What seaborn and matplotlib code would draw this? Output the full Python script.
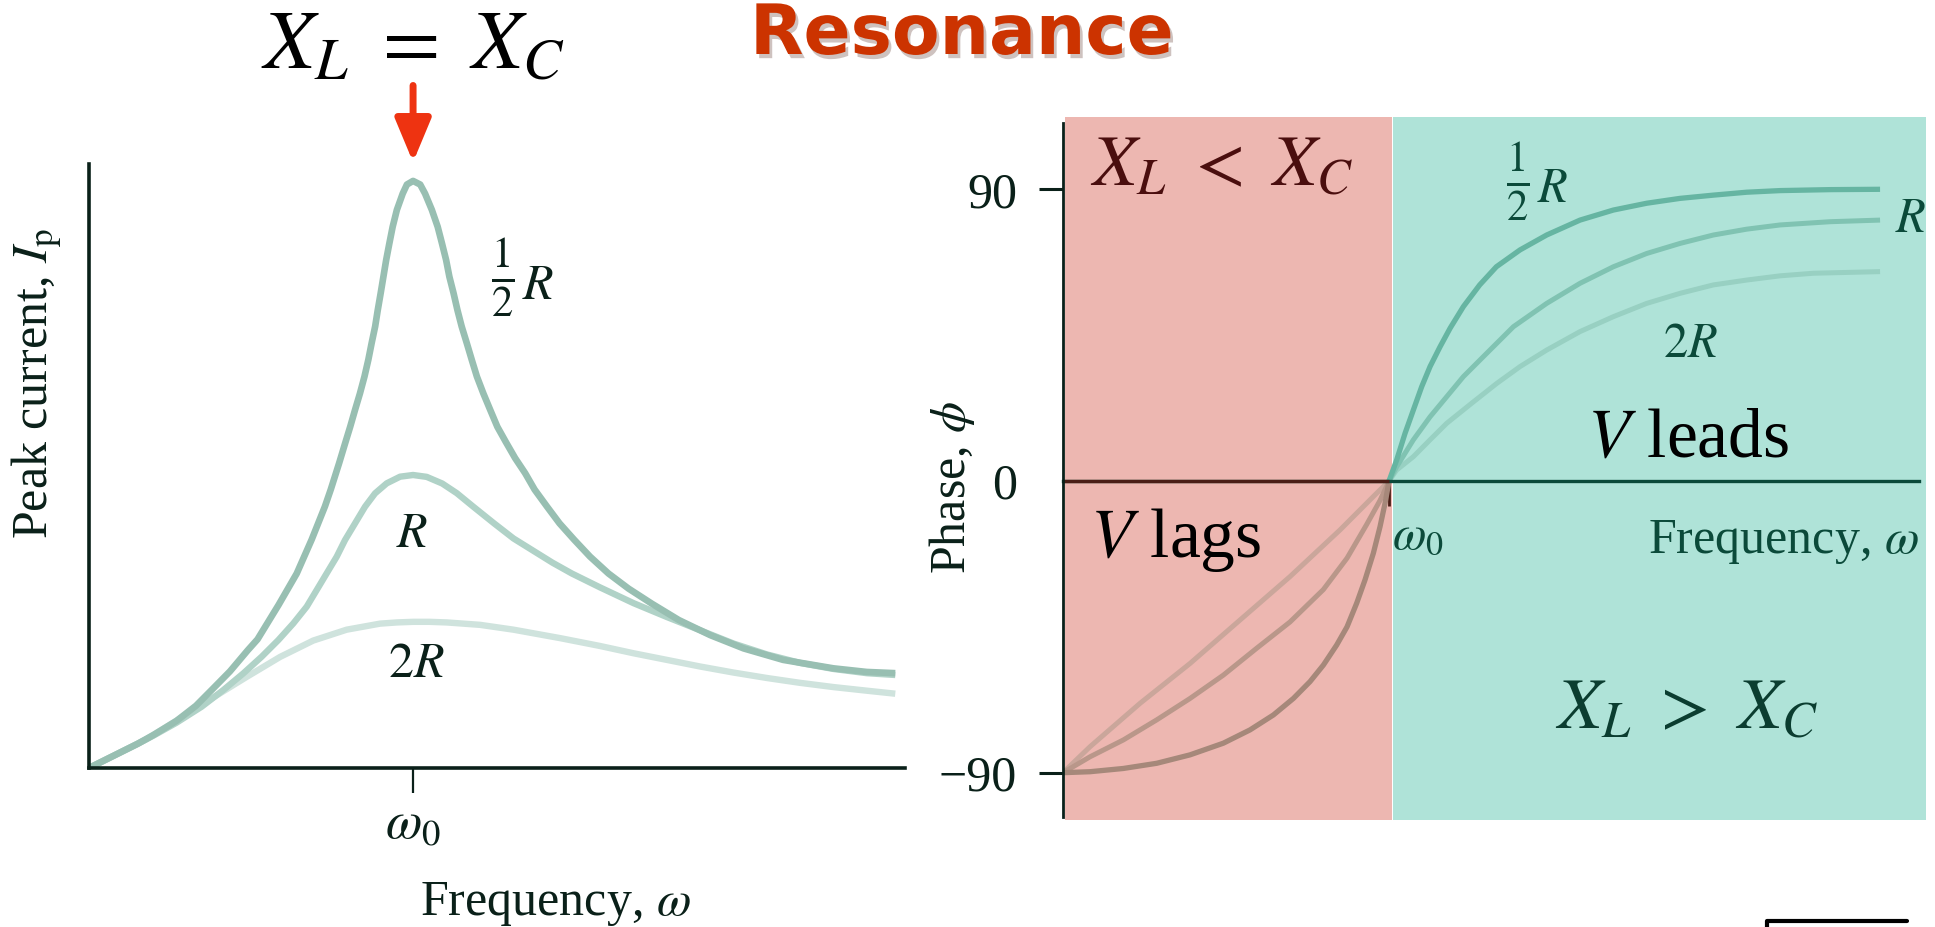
import matplotlib
matplotlib.use('Agg')
import matplotlib.pyplot as plt
import matplotlib.patheffects as pe
from matplotlib.lines import Line2D
import seaborn as sns

# left panel: peak current vs omega/omega0
w_half = [0, 0.075, 0.15, 0.20, 0.27, 0.33, 0.38, 0.435, 0.49, 0.52, 0.585, 0.641, 0.687, 0.728,
          0.746, 0.772, 0.790, 0.806, 0.821, 0.836, 0.850, 0.862, 0.872, 0.883, 0.891, 0.900, 0.9085,
          0.917, 0.927, 0.937, 0.950, 0.968, 0.981, 1.0, 1.022, 1.037, 1.058, 1.076, 1.089, 1.102,
          1.112, 1.125, 1.137, 1.150, 1.166, 1.181, 1.197, 1.217, 1.238, 1.260, 1.286, 1.315, 1.346,
          1.375, 1.413, 1.452, 1.497, 1.546, 1.603, 1.665, 1.737, 1.82, 1.917, 2.02, 2.142, 2.297,
          2.40, 2.488]
i_half = [0, 0.020, 0.040, 0.055, 0.078, 0.103, 0.130, 0.160, 0.195, 0.213, 0.270, 0.322, 0.378,
          0.433, 0.461, 0.505, 0.537, 0.565, 0.593, 0.620, 0.648, 0.676, 0.703, 0.731, 0.758, 0.786,
          0.8135, 0.841, 0.869, 0.896, 0.924, 0.951, 0.966, 0.972, 0.966, 0.951, 0.924, 0.896, 0.869,
          0.841, 0.8135, 0.786, 0.758, 0.731, 0.703, 0.676, 0.648, 0.620, 0.593, 0.565, 0.540, 0.513,
          0.488, 0.461, 0.433, 0.405, 0.378, 0.350, 0.322, 0.297, 0.272, 0.245, 0.220, 0.198, 0.179,
          0.165, 0.159, 0.157]
w_r = [0, 0.075, 0.15, 0.20, 0.27, 0.3477, 0.4146, 0.4763, 0.5329, 0.5844, 0.6307, 0.6718, 0.7027,
       0.7335, 0.7644, 0.7901, 0.821, 0.8519, 0.8827, 0.9187, 0.9599, 1.0, 1.042, 1.09, 1.135, 1.185,
       1.25, 1.31, 1.37, 1.43, 1.49, 1.577, 1.68, 1.783, 1.886, 1.989, 2.092, 2.194, 2.297, 2.40, 2.488]
i_r = [0, 0.020, 0.040, 0.054, 0.075, 0.1015, 0.1291, 0.1567, 0.1843, 0.2119, 0.2395, 0.2671, 0.2947,
       0.3223, 0.3499, 0.3775, 0.4051, 0.4327, 0.4547, 0.4713, 0.4823, 0.4851, 0.482, 0.471, 0.455,
       0.433, 0.405, 0.380, 0.360, 0.340, 0.322, 0.299, 0.273, 0.250, 0.228, 0.206, 0.188, 0.174,
       0.164, 0.157, 0.154]
w_2r = [0, 0.075, 0.178, 0.281, 0.384, 0.487, 0.590, 0.692, 0.795, 0.898, 0.95, 1.0, 1.05, 1.104,
        1.207, 1.310, 1.454, 1.577, 1.680, 1.783, 1.886, 1.989, 2.092, 2.194, 2.297, 2.400, 2.488]
i_2r = [0, 0.020, 0.048, 0.082, 0.117, 0.151, 0.184, 0.211, 0.229, 0.239, 0.241, 0.242, 0.242, 0.241,
        0.237, 0.229, 0.215, 0.202, 0.190, 0.179, 0.168, 0.158, 0.149, 0.141, 0.134, 0.128, 0.123]

# right panel: phase (deg), lagging part (w < w0) and leading part (w > w0)
lag_w_half = [0, 0.0828, 0.1851, 0.2875, 0.3896, 0.4918, 0.5736, 0.6452, 0.7066, 0.7577, 0.7986,
              0.8395, 0.8712, 0.9008, 0.9264, 0.9519, 0.9724, 0.9877, 1.0]
lag_p_half = [-90, -89.7, -88.7, -87.1, -84.5, -80.9, -76.8, -72.2, -67.1, -61.9, -56.8,
              -50.6, -45.0, -37.7, -30.5, -22.3, -14.1, -6.9, 0]
lead_w_half = [1.0, 1.0235, 1.0491, 1.0746, 1.1002, 1.1258, 1.1564, 1.1871, 1.228, 1.2781, 1.3292,
               1.4018, 1.4836, 1.5859, 1.6881, 1.7904, 1.8926, 1.9949, 2.0971, 2.1994, 2.3528, 2.5061]
lead_p_half = [0, 6.5, 14.7, 21.9, 29.1, 35.3, 41.4, 47.1, 53.8, 60.5, 66.1,
               71.3, 75.9, 80.5, 83.6, 85.7, 87.2, 88.2, 89.1, 89.6, 89.9, 90.0]
lag_w_r = [0, 0.0828, 0.1851, 0.2875, 0.3896, 0.4918, 0.5941, 0.6963, 0.7986, 0.8712, 0.9315, 0.9724, 1.0]
lag_p_r = [-90, -85.1, -79.9, -73.7, -67.1, -59.9, -51.6, -43.5, -33.5, -23.8, -13.4, -6.0, 0]
lead_w_r = [1.0, 1.0235, 1.0746, 1.1258, 1.1769, 1.228, 1.2996, 1.3814, 1.4836, 1.5859, 1.6881,
            1.7904, 1.8926, 1.9949, 2.0971, 2.1994, 2.3528, 2.5061]
lead_p_r = [0, 4.4, 12.7, 19.8, 26.0, 32.2, 39.4, 47.6, 54.8, 61.0, 66.1,
            70.2, 73.3, 75.9, 77.7, 79.0, 80.0, 80.5]
lag_w_2r = [0, 0.0828, 0.2363, 0.3896, 0.5429, 0.6963, 0.8497, 0.9519, 1.0]
lag_p_2r = [-90, -82.0, -68.6, -56.3, -42.9, -29.5, -15.1, -4.8, 0]
lead_w_2r = [1.0, 1.0235, 1.0746, 1.1258, 1.1769, 1.2536, 1.3303, 1.4018, 1.4836, 1.5859, 1.6881,
             1.7904, 1.8926, 1.9949, 2.0971, 2.1994, 2.3016, 2.5061]
lead_p_2r = [0, 3.4, 7.5, 12.7, 17.8, 24.0, 30.1, 35.3, 40.4, 46.1, 50.7,
             54.8, 57.9, 60.5, 62.0, 63.3, 64.1, 64.6]

phase_ticks = [-90, 0, 90]
phase_labels = ['\u221290', '0', '90']

sns.set_style('white')
plt.rcParams['font.family'] = ['Liberation Serif', 'DejaVu Serif']
plt.rcParams['mathtext.fontset'] = 'stix'

W, H = 1935, 927
fig = plt.figure(figsize=(W / 100, H / 100), dpi=100)


def box(x0, y0, x1, y1):
    # pixel box measured from the top left -> figure fraction rect
    return [x0 / W, 1 - y1 / H, (x1 - x0) / W, (y1 - y0) / H]


dark = '#0a2019'
dgreen = '#0b4a3a'
brown = '#4a1e16'

# ---------------- left: peak current ----------------
ax1 = fig.add_axes(box(89, 164, 905, 768))
kw = dict(solid_capstyle='butt', solid_joinstyle='round')
sns.lineplot(x=w_2r, y=i_2r, ax=ax1, color='#cfe3dd', lw=4.6, **kw)
sns.lineplot(x=w_r, y=i_r, ax=ax1, color='#b0d2c7', lw=4.6, **kw)
sns.lineplot(x=w_half, y=i_half, ax=ax1, color='#98bfb2', lw=4.8, **kw)
ax1.set_xlim(0, 2.518)
ax1.set_ylim(0, 1.0)
for s in ['top', 'right']:
    ax1.spines[s].set_visible(False)
for s in ['left', 'bottom']:
    ax1.spines[s].set_color(dark)
    ax1.spines[s].set_linewidth(2.6)
ax1.set_yticks([])
ax1.set_xticks([1.0])
ax1.set_xticklabels([r'$\omega_0$'], fontsize=38, color=dark)
ax1.tick_params(axis='x', direction='out', length=18, width=1.6, color=dark, pad=6, bottom=True)
ax1.set_xlabel('')
ax1.set_ylabel('')
ax1.text(1.278, 0.811, r'$\frac{1}{2}$', fontsize=44, color=dark, ha='center', va='center')
ax1.text(1.336, 0.7765, r'$R$', fontsize=36, color=dark, ha='left', va='baseline')
ax1.text(0.997, 0.386, r'$R$', fontsize=36, color=dark, ha='center', va='center')
ax1.text(1.009, 0.171, r'$2R$', fontsize=36, color=dark, ha='center', va='center')
ax1.annotate('', xy=(1.0, 1.003), xytext=(1.0, 1.13), xycoords='data', annotation_clip=False,
             arrowprops=dict(arrowstyle='-|>,head_length=1.2,head_width=0.5', color='#ee3311',
                             lw=5, mutation_scale=22, shrinkA=0, shrinkB=0))
fig.text(555 / W, 1 - 915 / H, r'Frequency, $\omega$', fontsize=36, color=dark,
         ha='center', va='baseline')
fig.text(37 / W, 1 - 383 / H, r'Peak current, $I_{\mathrm{p}}$', fontsize=36, color=dark,
         rotation=90, ha='center', va='center')

# ---------------- right: phase ----------------
ax2 = fig.add_axes(box(1063, 116.7, 1926, 820))
ax2.set_xlim(0, 2.647)
ax2.set_ylim(-104.6, 112.4)
ax2.axvspan(0.006, 1.008, color='#edb7b1', lw=0, zorder=0)
ax2.axvspan(1.013, 2.647, color='#afe3d8', lw=0, zorder=0)
kw2 = dict(solid_capstyle='butt', solid_joinstyle='round')
sns.lineplot(x=lag_w_2r, y=lag_p_2r, ax=ax2, color='#caa69b', lw=3.6, **kw2)
sns.lineplot(x=lag_w_r, y=lag_p_r, ax=ax2, color='#b9978a', lw=3.6, **kw2)
sns.lineplot(x=lag_w_half, y=lag_p_half, ax=ax2, color='#a6887a', lw=3.8, **kw2)
sns.lineplot(x=lead_w_2r, y=lead_p_2r, ax=ax2, color='#98d0c2', lw=3.6, **kw2)
sns.lineplot(x=lead_w_r, y=lead_p_r, ax=ax2, color='#80c3b2', lw=3.6, **kw2)
sns.lineplot(x=lead_w_half, y=lead_p_half, ax=ax2, color='#66b5a2', lw=3.8, **kw2)
ax2.set_xlabel('')
ax2.set_ylabel('')
for s in ['top', 'right']:
    ax2.spines[s].set_visible(False)
ax2.spines['left'].set_color(dark)
ax2.spines['left'].set_linewidth(2.0)
ax2.spines['left'].set_bounds(-103.6, 110.5)
ax2.spines['left'].set_zorder(5)
ax2.spines['bottom'].set_position(('data', 0))
ax2.spines['bottom'].set_color(dgreen)
ax2.spines['bottom'].set_linewidth(2.4)
ax2.spines['bottom'].set_bounds(0, 2.626)
ax2.hlines(0, 0, 1.0, color=brown, lw=2.4, zorder=4)
ax2.set_yticks(phase_ticks)
ax2.set_yticklabels(phase_labels, fontsize=36, color=dark)
ax2.tick_params(axis='y', direction='out', length=17, width=2.2, color=dark, pad=16, left=True)
ax2.yaxis.get_major_ticks()[1].tick1line.set_visible(False)
ax2.set_xticks([1.0])
ax2.set_xticklabels([''])
ax2.tick_params(axis='x', direction='out', length=18, width=2.0, color=brown, bottom=True)
ax2.text(1.008, -17, r'$\omega_0$', fontsize=35, color=dgreen, ha='left', va='center')
ax2.text(2.626, -22.2, r'Frequency, $\omega$', fontsize=36, color=dgreen, ha='right', va='baseline')
ax2.text(1.396, 92.3, r'$\frac{1}{2}$', fontsize=44, color=dgreen, ha='center', va='center')
ax2.text(1.455, 86.1, r'$R$', fontsize=35, color=dgreen, ha='left', va='baseline')
ax2.text(2.601, 80.5, r'$R$', fontsize=35, color=dgreen, ha='center', va='center')
ax2.text(1.923, 42.0, r'$2R$', fontsize=35, color=dgreen, ha='center', va='center')
ax2.text(1.607, 7.4, r'$V$ leads', fontsize=50, color='black', ha='left', va='baseline')
ax2.text(0.083, -23.4, r'$V$ lags', fontsize=50, color='black', ha='left', va='baseline')
ax2.text(0.083, 91.3, r'$X_{L}\ <\ X_{C}$', fontsize=52, color='#4a0e0e', ha='left', va='baseline')
ax2.text(1.509, -76.2, r'$X_{L}\ >\ X_{C}$', fontsize=52, color='#0b3d30', ha='left', va='baseline')
fig.text(952 / W, 1 - 487 / H, r'Phase, $\phi$', fontsize=36, color=dark,
         rotation=90, ha='center', va='center')

# ---------------- titles ----------------
fig.text(261 / W, 1 - 68 / H, r'$X_{L}\ =\ X_{C}$', fontsize=60, color='black', ha='left', va='baseline')
fig.text(750 / W, 1 - 54 / H, 'Resonance', fontsize=50, fontweight='bold', color='#cc3300',
         family='DejaVu Sans', ha='left', va='baseline',
         path_effects=[pe.withSimplePatchShadow(offset=(2, -3), alpha=0.25)])

# stray frame corner bottom right
fig.add_artist(Line2D([1767 / W, 1767 / W, 1907 / W], [0, 6 / H, 6 / H], color='black', lw=3))

fig.savefig('out.png', dpi=100)
